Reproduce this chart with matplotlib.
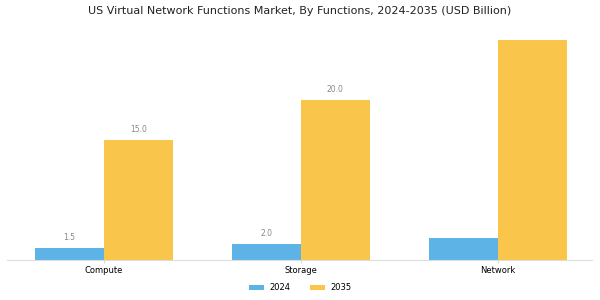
import numpy as np
import matplotlib.pyplot as plt

categories = ["Compute", "Storage", "Network"]
values_2024 = [1.5, 2.0, 2.8]
values_2035 = [15.0, 20.0, 27.5]
labels_2024 = ["1.5", "2.0", ""]
labels_2035 = ["15.0", "20.0", ""]

fig = plt.figure(figsize=(6, 3), dpi=100)
ax = fig.add_axes([0.012, 0.1333, 0.975, 0.7667])

x = np.arange(len(categories))
w = 0.35
b1 = ax.bar(x - w / 2, values_2024, w, color="#5DB3E6", label="2024")
b2 = ax.bar(x + w / 2, values_2035, w, color="#F9C54B", label="2035")

for bars, labs in ((b1, labels_2024), (b2, labels_2035)):
    for bar, lab in zip(bars, labs):
        if lab:
            ax.text(bar.get_x() + bar.get_width() / 2, bar.get_height() + 0.8, lab,
                    ha="center", va="bottom", fontsize=5.5, color="#888888")

ax.set_xlim(-0.49, 2.48)
ax.set_ylim(0, 28.75)
ax.set_xticks(x)
ax.set_xticklabels(categories, fontsize=6)
ax.tick_params(axis="x", length=2, width=0.6, color="#cccccc", pad=2)
ax.set_yticks([])
for s in ["top", "right", "left"]:
    ax.spines[s].set_visible(False)
ax.spines["bottom"].set_color("#dddddd")

fig.suptitle("US Virtual Network Functions Market, By Functions, 2024-2035 (USD Billion)",
             fontsize=8, y=0.98, color="#222222")
fig.legend(loc="lower center", ncol=2, frameon=False, fontsize=6,
           bbox_to_anchor=(0.5, 0.0), handlelength=1.8, handleheight=0.6,
           handletextpad=0.6, columnspacing=2.4)

plt.savefig("out.png", dpi=100)
